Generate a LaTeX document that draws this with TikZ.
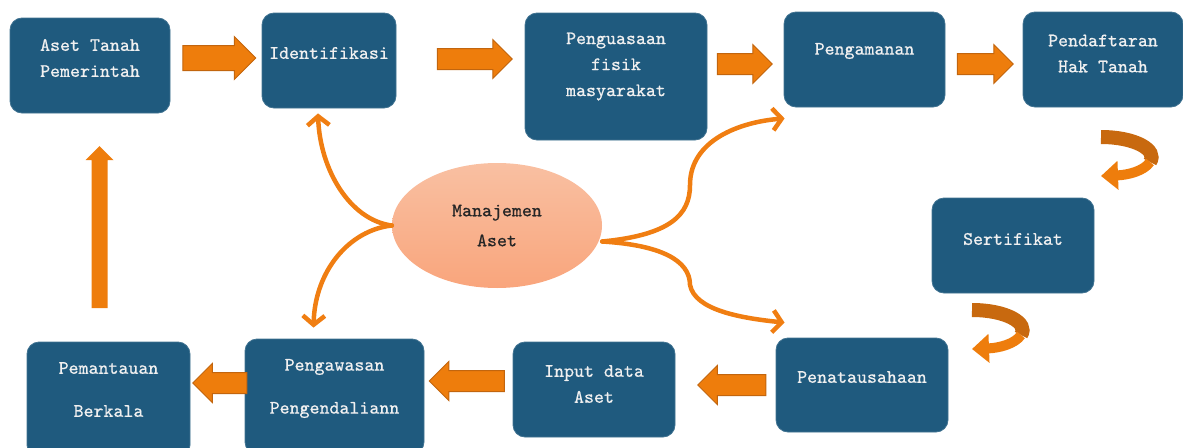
\documentclass[tikz,border=0pt]{standalone}
\usepackage{fontspec}
\newfontfamily\boxfont{lmmono10-regular.otf}[FakeBold=0.6]
\usetikzlibrary{shapes.geometric,shapes.arrows,arrows.meta}
\definecolor{boxblue}{HTML}{1F5A7E}
\definecolor{arroworange}{HTML}{EE7D0C}
\definecolor{arrowrim}{HTML}{C2650E}
\definecolor{turndark}{HTML}{C8690F}
\definecolor{linkorange}{HTML}{F07E12}
\definecolor{peachtop}{HTML}{F9C0A2}
\definecolor{peachbot}{HTML}{F9A57C}
\begin{document}
\begin{tikzpicture}[x=1pt,y=-1pt,
  box/.style={draw=boxblue!85!white,fill=boxblue,rounded corners=12pt,line width=0.8pt,inner sep=0pt},
  txt/.style={text=white!94!black,font=\boxfont\fontsize{19}{26}\selectfont,align=center},
  blk/.style={single arrow,draw=arrowrim,fill=arroworange,line width=1pt,inner xsep=0pt,inner ysep=10pt,
    minimum width=38pt,single arrow head extend=9pt},
  link/.style={draw=linkorange,line width=4.5pt,line cap=round,-{Straight Barb[length=9pt,width=22pt]}},
  turnup/.style={draw=turndark,line width=14pt},
  turnlow/.style={draw=arroworange,line width=10pt,-{Triangle[length=17pt,width=28pt]}}]
  \useasboundingbox (0,0) rectangle (1183,447);
  \clip (0,0) rectangle (1183,447);
  % top row
  \node[box,minimum width=160pt,minimum height=95pt,
    label={[txt,yshift=7.5pt]center:{Aset Tanah\\Pemerintah}}] (aset) at (90,65.5) {};
  \node[box,minimum width=134pt,minimum height=95pt,
    label={[txt,yshift=7.5pt]center:Identifikasi}] (ident) at (329,60.5) {};
  \node[box,minimum width=182pt,minimum height=127pt,
    label={[txt,yshift=10pt]center:{Penguasaan\\fisik\\masyarakat}}] (kuasa) at (616,76.5) {};
  \node[box,minimum width=161pt,minimum height=95pt,
    label={[txt,yshift=8.5pt]center:Pengamanan}] (aman) at (864.5,59.5) {};
  \node[box,minimum width=160pt,minimum height=95pt,
    label={[txt,yshift=6pt]center:{Pendaftaran\\Hak Tanah}}] (daftar) at (1103,59.5) {};
  % right side
  \node[box,minimum width=162pt,minimum height=95pt,
    label={[txt,yshift=6.5pt]center:Sertifikat}] (sert) at (1013,245.5) {};
  % bottom row
  \node[box,minimum width=172pt,minimum height=94pt,
    label={[txt,yshift=8pt]center:Penatausahaan}] (tata) at (862,385) {};
  \node[box,minimum width=162pt,minimum height=95pt,
    label={[txt,yshift=5.5pt]center:{Input data\\Aset}}] (input) at (594,389.5) {};
  \node[box,minimum width=179pt,minimum height=115pt,
    label={[txt,yshift=8pt]center:{Pengawasan\\[17pt]Pengendaliann}}] (awas) at (334.5,396.5) {};
  \node[box,minimum width=163pt,minimum height=115pt,
    label={[txt,yshift=10pt]center:{Pemantauan\\[17pt]Berkala}}] (pantau) at (108.5,399.5) {};
  % block arrows
  \node[blk,minimum height=73pt,inner ysep=12pt] (a1) at (213,58) {};
  \node[blk,minimum height=75pt] (a2) at (469.5,59) {};
  \node[blk,minimum height=55pt] (a3) at (739.5,64) {};
  \node[blk,minimum height=56pt] (a4) at (980,64) {};
  \node[blk,minimum height=68pt,shape border rotate=180] (a5) at (737,385) {};
  \node[blk,minimum height=75pt,shape border rotate=180] (a6) at (472,381) {};
  \node[blk,minimum height=54pt,shape border rotate=180] (a7) at (225,383) {};
  \node[blk,draw=none,minimum height=162pt,minimum width=27pt,inner sep=7.5pt,single arrow head extend=6pt,
    shape border rotate=90] (a8) at (99.5,231) {};
  % turning arrows
  \begin{scope}
    \draw[turnup] (1101,137) .. controls (1135,137) and (1158,150) .. (1150,162);
    \draw[turnlow] (1150,162) .. controls (1144,171) and (1128,175) .. (1101,176);
  \end{scope}
  \begin{scope}[shift={(-129,173)}]
    \draw[turnup] (1101,137) .. controls (1135,137) and (1158,150) .. (1150,162);
    \draw[turnlow] (1150,162) .. controls (1144,171) and (1128,175) .. (1101,176);
  \end{scope}
  % centre
  \node[ellipse,minimum width=210pt,minimum height=125pt,top color=peachtop,bottom color=peachbot,
    align=center,text=black!85,font=\boxfont\fontsize{19}{26}\selectfont] (mgmt) at (497,225.5)
    {Manajemen\\[4pt]Aset};
  \draw[link] (mgmt.west) .. controls (350,220) and (320,170) .. ([xshift=-11pt,yshift=-5pt]ident.south);
  \draw[link] (mgmt.west) .. controls (350,230) and (315,270) .. ([xshift=-21pt,yshift=11pt]awas.north);
  \draw[link] ([yshift=-16pt]mgmt.east) .. controls (670,235) and (690,215) .. (690,185)
    .. controls (690,140) and (740,122) .. ([xshift=1pt,yshift=-11pt]aman.south west);
  \draw[link] ([yshift=-16pt]mgmt.east) .. controls (660,245) and (690,260) .. (690,285)
    .. controls (695,310) and (740,318) .. ([xshift=9pt,yshift=15pt]tata.north west);
\end{tikzpicture}
\end{document}
